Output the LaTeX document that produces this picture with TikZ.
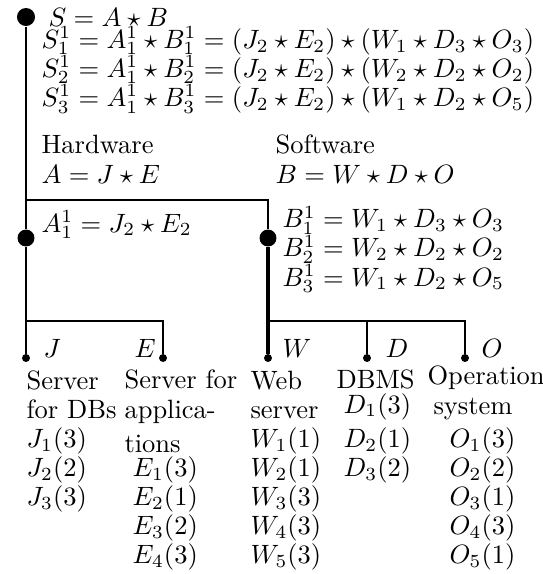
\documentclass[tikz,border=0pt]{standalone}
\begin{document}
\begin{tikzpicture}[x=0.3774pt,y=-0.3774pt,
    link/.style={line width=0.9pt},
    rootdot/.style={circle,fill,inner sep=0pt,minimum size=6.8pt},
    bigdot/.style={circle,fill,inner sep=0pt,minimum size=6.4pt},
    leafdot/.style={circle,fill,inner sep=0pt,minimum size=3pt},
    txt/.style={anchor=base west,inner sep=0pt,align=left,font=\fontsize{10}{11}\selectfont}]
  \useasboundingbox (0,0) rectangle (543,574);
  % tree
  \node[rootdot] (s) at (26,17) {};
  \node[bigdot] (a) at (26,238) {};
  \node[bigdot] (b) at (268,238) {};
  \node[leafdot] (j) at (26,358) {};
  \node[leafdot] (e) at (163,358) {};
  \node[leafdot] (w) at (268,358) {};
  \node[leafdot] (d) at (367,358) {};
  \node[leafdot] (o) at (465,358) {};
  \coordinate (sfork) at (26,200);
  \coordinate (afork) at (26,321);
  \coordinate (bfork) at (268,321);
  \draw[link] (s) -- (a) (sfork) -| (b);
  \draw[link] (a) -- (j) (afork) -| (e);
  \draw[link] (bfork) -| (d) (bfork) -| (o);
  \draw[link,line width=1.2pt] (b) -- (w);
  % combinations (multi-line nodes sit on their last baseline)
  \node[txt] (slabel) at (48,26) {$S=A\star B$};
  \node[txt] (scombos) at (41,106.5) {$S^1_1=A^1_1\star B^1_1=(J_2\star E_2)\star(W_1\star D_3\star O_3)$\\
    $S^1_2=A^1_1\star B^1_2=(J_2\star E_2)\star(W_2\star D_2\star O_2)$\\
    $S^1_3=A^1_1\star B^1_3=(J_2\star E_2)\star(W_1\star D_2\star O_5)$};
  \node[txt] (hw) at (41,183) {Hardware\\$A=J\star E$};
  \node[txt] (sw) at (275,183) {Software\\$B=W\star D\star O$};
  \node[txt] (acombo) at (41,232) {$A^1_1=J_2\star E_2$};
  \node[txt] (bcombos) at (282,286) {$B^1_1=W_1\star D_3\star O_3$\\
    $B^1_2=W_2\star D_2\star O_2$\\
    $B^1_3=W_1\star D_2\star O_5$};
  % leaves
  \node[txt] (jname) at (43,357) {$J$};
  \node[txt] (ename) at (134,357) {$E$};
  \node[txt] (wname) at (282,357) {$W$};
  \node[txt] (dname) at (385,357) {$D$};
  \node[txt] (oname) at (481,357) {$O$};
  \node[txt] (jcol) at (26,505.6) {Server\\for DBs\\$J_1(3)$\\$J_2(2)$\\$J_3(3)$};
  \node[txt] (ecol) at (124,452.3) {Server for\\applica-\\[1.9pt]tions};
  \foreach \v [count=\i] in {3,1,2,3}
    \node[txt] (e\i) at (132,{476.5+29.15*(\i-1)}) {$E_{\i}(\v)$};
  \node[txt] (wcol) at (250,563.9) {Web\\server\\$W_1(1)$\\$W_2(1)$\\$W_3(3)$\\$W_4(3)$\\$W_5(3)$};
  \node[txt] (dcol) at (336,388) {DBMS};
  \foreach \v/\y [count=\i] in {3/413,1/447.3,2/476.5}
    \node[txt] (d\i) at (343,\y) {$D_{\i}(\v)$};
  \node[txt] (ocol) at (427,384) {Operation};
  \node[txt] (osys) at (433,414) {system};
  \foreach \v [count=\i] in {3,2,1,3,1}
    \node[txt] (o\i) at (449,{447.3+29.15*(\i-1)}) {$O_{\i}(\v)$};
\end{tikzpicture}
\end{document}
